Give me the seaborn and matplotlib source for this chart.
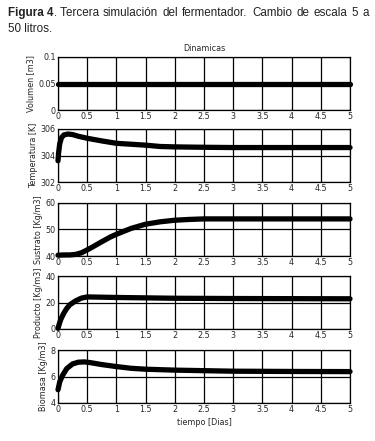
import numpy as np
import pandas as pd
import matplotlib
matplotlib.use("Agg")
import matplotlib.pyplot as plt
import seaborn as sns

# ---- data ----
t_vol = [0, 5]
volumen = [0.05, 0.05]

t_temp = [0, 0.01, 0.03, 0.06, 0.1, 0.17, 0.25, 0.35, 0.5, 0.75, 1.0, 1.25, 1.5, 1.75, 2.0, 2.5, 3.0, 4.0, 5.0]
temperatura = [303.6, 304.2, 304.9, 305.35, 305.55, 305.62, 305.58, 305.45, 305.3, 305.1, 304.92, 304.85, 304.78, 304.68, 304.65, 304.62, 304.6, 304.6, 304.6]

t_sus = [0, 0.1, 0.2, 0.3, 0.4, 0.5, 0.6, 0.75, 0.9, 1.0, 1.25, 1.5, 1.75, 2.0, 2.25, 2.5, 3.0, 4.0, 5.0]
sustrato = [40.3, 40.4, 40.4, 40.6, 41.2, 42.3, 43.5, 45.4, 47.2, 48.2, 50.4, 52.0, 52.9, 53.5, 53.8, 54.0, 54.0, 54.0, 54.0]

t_prod = [0, 0.02, 0.05, 0.1, 0.15, 0.2, 0.3, 0.4, 0.5, 0.75, 1.0, 1.5, 2.0, 3.0, 4.0, 5.0]
producto = [0.5, 3.5, 7.5, 12.0, 15.5, 18.2, 21.2, 23.3, 24.2, 24.0, 23.8, 23.5, 23.2, 23.0, 22.9, 22.8]

t_bio = [0, 0.03, 0.08, 0.15, 0.25, 0.35, 0.45, 0.55, 0.75, 1.0, 1.25, 1.5, 2.0, 2.5, 3.0, 4.0, 5.0]
biomasa = [5.0, 5.6, 6.1, 6.6, 6.95, 7.08, 7.1, 7.05, 6.9, 6.75, 6.62, 6.55, 6.48, 6.44, 6.4, 6.38, 6.37]

series = [
    (t_vol, volumen, "Volumen [m3]", (0, 0.1), [0, 0.05, 0.1], ["0", "0.05", "0.1"]),
    (t_temp, temperatura, "Temperatura [K]", (302, 306), [302, 304, 306], ["302", "304", "306"]),
    (t_sus, sustrato, "Sustrato [Kg/m3]", (40, 60), [40, 50, 60], ["40", "50", "60"]),
    (t_prod, producto, "Producto [Kg/m3]", (0, 40), [0, 20, 40], ["0", "20", "40"]),
    (t_bio, biomasa, "Biomasa [Kg/m3]", (4, 8), [4, 6, 8], ["4", "6", "8"]),
]
x_ticks = [0, 0.5, 1, 1.5, 2, 2.5, 3, 3.5, 4, 4.5, 5]
x_ticklabels = ["0", "0.5", "1", "1.5", "2", "2.5", "3", "3.5", "4", "4.5", "5"]

caption_line1 = ["Figura 4", ". Tercera", "simulación", "del", "fermentador.", "Cambio", "de", "escala", "5", "a"]
caption_line2 = "50 litros."

sns.set_style("white")
plt.rcParams["font.family"] = ["DejaVu Sans"]

W, H = 375, 441
fig = plt.figure(figsize=(W / 100, H / 100), dpi=100)

panel_px = [(57, 110), (129, 182), (203, 256), (276, 329), (350, 403)]
left_px, right_px = 58, 350

for (tt, vv, lab, ylim, yt, ytl), (top, bot) in zip(series, panel_px):
    ax = fig.add_axes([left_px / W, 1 - bot / H, (right_px - left_px) / W, (bot - top) / H])
    df = pd.DataFrame({"t": tt, "v": vv})
    sns.lineplot(data=df, x="t", y="v", ax=ax, color="black", linewidth=3.8, clip_on=False)
    ax.set_xlim(0, 5)
    ax.set_ylim(*ylim)
    ax.set_xticks(x_ticks)
    ax.set_xticklabels(x_ticklabels)
    ax.set_yticks(yt)
    ax.set_yticklabels(ytl)
    ax.grid(True, color="black", linewidth=0.9)
    ax.tick_params(labelsize=5.8, length=0, pad=1.5)
    for s in ax.spines.values():
        s.set_color("black")
        s.set_linewidth(0.9)
    ax.set_ylabel(lab, fontsize=5.8, labelpad=2)
    ax.set_xlabel("")
    if lab.startswith("Volumen"):
        ax.set_title("Dinamicas", fontsize=5.8, pad=4)
    if lab.startswith("Biomasa"):
        ax.set_xlabel("tiempo [Dias]", fontsize=5.8, labelpad=3)

# caption (justified first line)
fam = ["Liberation Sans", "DejaVu Sans"]
fs = 8.4
renderer = fig.canvas.get_renderer()
y1 = 1 - 16 / H
texts = []
for i, w in enumerate(caption_line1):
    txt = fig.text(0, y1, w, fontsize=fs, family=fam, color="#222222",
                   fontweight="bold" if i == 0 else "normal")
    texts.append(txt)
widths = [t.get_window_extent(renderer=renderer).width for t in texts]
x0, x1 = 8, 369
# "Figura 4" and ". Tercera" join without a gap
n_gaps = len(texts) - 2
gap = max((x1 - x0 - sum(widths)) / n_gaps, 2.5)
x = x0
for i, (t, w) in enumerate(zip(texts, widths)):
    t.set_x(x / W)
    x += w + (0 if i == 0 else gap)
fig.text(8 / W, 1 - 32 / H, caption_line2, fontsize=fs, family=fam, color="#222222")

fig.savefig("out.png", dpi=100)
